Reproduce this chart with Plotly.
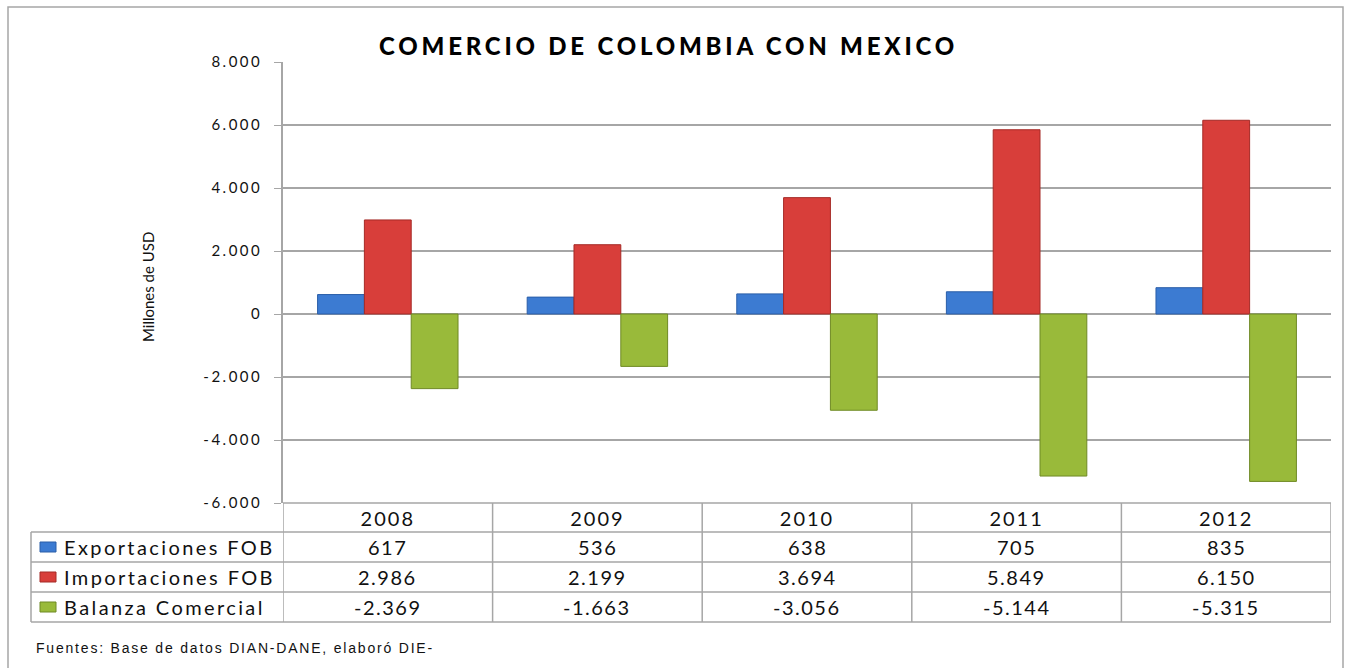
import plotly.graph_objects as go

years = ["2008", "2009", "2010", "2011", "2012"]
exportaciones = [617, 536, 638, 705, 835]
importaciones = [2986, 2199, 3694, 5849, 6150]
balanza = [-2369, -1663, -3056, -5144, -5315]

series_names = ["Exportaciones FOB", "Importaciones FOB", "Balanza Comercial"]
series_values = [exportaciones, importaciones, balanza]
series_colors = ["#3c7bd2", "#d83e3a", "#99ba3a"]
series_lines = ["#2a5ea8", "#a52a26", "#6f8a25"]

tick_vals = [8000, 6000, 4000, 2000, 0, -2000, -4000, -6000]
tick_text = ["8.000", "6.000", "4.000", "2.000", "0", "-2.000", "-4.000", "-6.000"]

title_text = "COMERCIO DE COLOMBIA CON MEXICO"
y_title = "Millones de USD"
footnote = "Fuentes: Base de datos DIAN-DANE, elaboró DIE-"

W, H = 1345, 668
L, T = 283, 62
R = W - 1331
B = H - 503
PW, PH = W - L - R, H - T - B


def px(x):
    return (x - L) / PW


def py(y):
    return (H - B - y) / PH


def fmt(v):
    return f"{v:,}".replace(",", ".")


def sp(text, ls):
    return f'<span style="letter-spacing:{ls}px">{text}</span>'


fig = go.Figure()
for name, vals, col, lc in zip(series_names, series_values, series_colors, series_lines):
    fig.add_trace(go.Bar(x=years, y=vals, name=name, marker=dict(color=col, line=dict(color=lc, width=1))))

grid = "#a6a6a6"
font_family = "Lato, Open Sans, sans-serif"
txt = "#111111"

fig.update_layout(
    width=W, height=H,
    margin=dict(l=L, r=R, t=T, b=B),
    paper_bgcolor="white", plot_bgcolor="white",
    showlegend=False,
    barmode="group", bargap=0.33, bargroupgap=0,
    font=dict(family=font_family, color=txt),
    xaxis=dict(
        type="category", range=[-0.5, 4.5],
        tickvals=years, ticktext=[sp(y, 2) for y in years],
        showline=False, showgrid=False, ticks="",
        tickfont=dict(size=20, color=txt),
        ticklabelstandoff=2,
    ),
    yaxis=dict(
        range=[-6000, 8000], tickvals=tick_vals, ticktext=[sp(t, 2.5) for t in tick_text],
        showgrid=True, gridcolor=grid, gridwidth=1.5,
        zeroline=True, zerolinecolor=grid, zerolinewidth=1.5,
        showline=True, linecolor=grid, linewidth=1.5,
        ticks="outside", ticklen=7, tickcolor=grid,
        tickfont=dict(size=15, color=txt),
        ticklabelstandoff=9,
    ),
)

shapes = []
# outer border
shapes.append(dict(type="rect", xref="paper", yref="paper", x0=px(8), x1=px(1343), y0=py(690), y1=py(7),
                   line=dict(color="#a6a6a6", width=1.5), layer="below"))

# table
row_edges = [503, 532, 562, 592, 622]
tab_left = 31
line_style = dict(color=grid, width=1.5)
for i, yy in enumerate(row_edges):
    x0 = 283 if i == 0 else tab_left
    shapes.append(dict(type="line", xref="paper", yref="paper", x0=px(x0), x1=1, y0=py(yy), y1=py(yy), line=line_style))
for i in range(len(years) + 1):
    shapes.append(dict(type="line", xref="x", yref="paper", x0=i - 0.5, x1=i - 0.5,
                       y0=py(row_edges[-1]), y1=py(row_edges[0]), line=line_style))
shapes.append(dict(type="line", xref="paper", yref="paper", x0=px(tab_left), x1=px(tab_left),
                   y0=py(row_edges[-1]), y1=py(row_edges[1]), line=line_style))

annotations = []
for r, (name, vals, col, lc) in enumerate(zip(series_names, series_values, series_colors, series_lines)):
    yc = (row_edges[r + 1] + row_edges[r + 2]) / 2
    shapes.append(dict(type="rect", xref="paper", yref="paper", x0=px(40), x1=px(56),
                       y0=py(yc + 5), y1=py(yc - 5), fillcolor=col, line=dict(color=lc, width=1)))
    annotations.append(dict(text=sp(name, 2.4), xref="paper", yref="paper", x=px(62), y=py(yc), xanchor="left",
                            yanchor="middle", showarrow=False, font=dict(size=20, color=txt)))
    for i, v in enumerate(vals):
        annotations.append(dict(text=sp(fmt(v), 1.5), xref="x", yref="paper", x=i, y=py(yc), xanchor="center",
                                yanchor="middle", showarrow=False, font=dict(size=20, color=txt)))

annotations.append(dict(text=sp(title_text, 3.8), xref="paper", yref="paper", x=px(668), y=py(45),
                        xanchor="center", yanchor="middle", showarrow=False,
                        font=dict(size=24, color="#000000", weight=900)))
annotations.append(dict(text=y_title, xref="paper", yref="paper", x=px(148), y=py(287), textangle=-90,
                        xanchor="center", yanchor="middle", showarrow=False,
                        font=dict(size=15, color=txt)))
annotations.append(dict(text=sp(footnote, 1.8), xref="paper", yref="paper", x=px(34), y=py(648), xanchor="left",
                        yanchor="middle", showarrow=False,
                        font=dict(size=14, family="Liberation Sans, Arial, sans-serif", color=txt)))

fig.update_layout(shapes=shapes, annotations=annotations)
fig.write_html("out.html", config={"displayModeBar": False},
               post_script="document.body.style.margin='0px';")
